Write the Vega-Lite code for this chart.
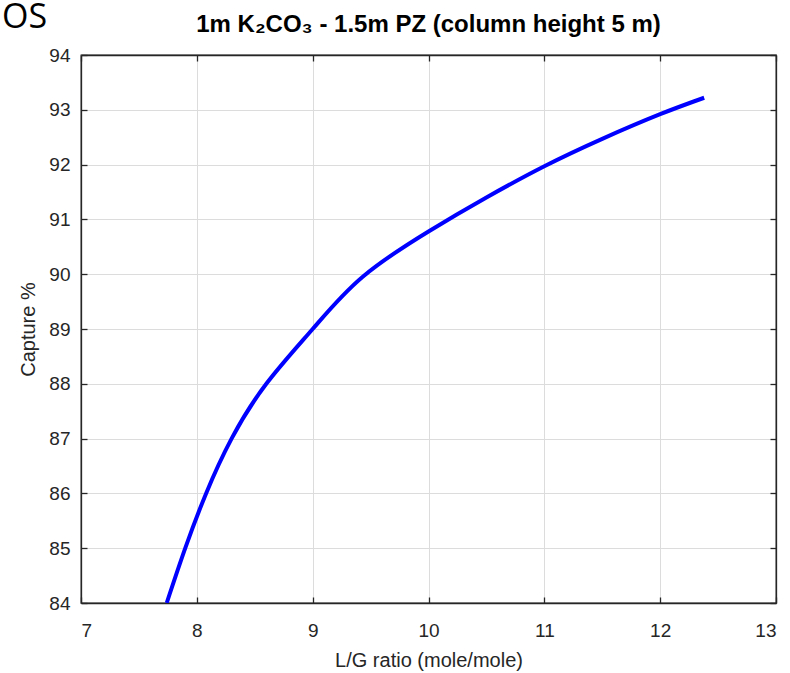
{
  "$schema": "https://vega.github.io/schema/vega-lite/v6.json",
  "autosize": {"type": "none"},
  "padding": {"left": 81, "top": 55, "right": 14, "bottom": 70},
  "width": 695,
  "height": 548,
  "background": "white",
  "config": {
    "view": {"stroke": "#262626", "strokeWidth": 1.3},
    "font": "Liberation Sans",
    "axis": {
      "labelFont": "Liberation Sans",
      "titleFont": "Liberation Sans",
      "labelFontSize": 19,
      "titleFontSize": 20,
      "titleFontWeight": "normal",
      "labelColor": "#262626",
      "titleColor": "#262626",
      "domainColor": "#262626",
      "domainWidth": 1.3,
      "tickColor": "#262626",
      "tickWidth": 1.3,
      "gridColor": "#dcdcdc",
      "gridWidth": 1,
      "gridOpacity": 1
    }
  },
  "title": {
    "text": "1m K₂CO₃ - 1.5m PZ (column height 5 m)",
    "font": "Liberation Sans",
    "fontSize": 24,
    "fontWeight": "bold",
    "color": "#000000",
    "anchor": "middle",
    "offset": -31,
    "dy": 5
  },
  "data": {
    "values": [
      {"lg": 7.74, "capture": 84.0},
      {"lg": 7.90, "capture": 85.0},
      {"lg": 8.08, "capture": 86.0},
      {"lg": 8.30, "capture": 87.0},
      {"lg": 8.60, "capture": 88.0},
      {"lg": 9.00, "capture": 89.0},
      {"lg": 9.43, "capture": 89.95},
      {"lg": 10.00, "capture": 90.78},
      {"lg": 10.50, "capture": 91.4},
      {"lg": 11.00, "capture": 91.97},
      {"lg": 11.50, "capture": 92.47},
      {"lg": 12.00, "capture": 92.92},
      {"lg": 12.38, "capture": 93.22}
    ]
  },
  "layer": [
    {
      "mark": {"type": "line", "color": "#0000ff", "strokeWidth": 4, "interpolate": "natural", "clip": true},
      "encoding": {
        "x": {
          "field": "lg", "type": "quantitative",
          "scale": {"domain": [7, 13], "nice": false, "zero": false},
          "axis": {
            "title": "L/G ratio (mole/mole)",
            "values": [7, 8, 9, 10, 11, 12, 13],
            "tickSize": -6,
            "labelPadding": 24,
            "titlePadding": 10,
            "grid": true,
            "orient": "bottom"
          }
        },
        "y": {
          "field": "capture", "type": "quantitative",
          "scale": {"domain": [84, 94], "nice": false, "zero": false},
          "axis": {
            "title": "Capture %",
            "values": [84, 85, 86, 87, 88, 89, 90, 91, 92, 93, 94],
            "tickSize": -6,
            "labelPadding": 17,
            "titlePadding": 10,
            "grid": true,
            "orient": "left"
          }
        }
      }
    },
    {
      "data": {"values": [{"label": "OS"}]},
      "mark": {"type": "text", "fontSize": 34, "font": "Open Sans", "color": "#000000", "align": "left", "baseline": "middle", "clip": false, "dx": -79, "dy": -37},
      "encoding": {
        "text": {"field": "label"},
        "x": {"datum": 7, "type": "quantitative", "axis": {"orient": "top", "labels": false, "title": null, "grid": false, "tickSize": -6, "values": [7, 8, 9, 10, 11, 12, 13]}},
        "y": {"datum": 94, "type": "quantitative", "axis": {"orient": "right", "labels": false, "title": null, "grid": false, "tickSize": -6, "values": [84, 85, 86, 87, 88, 89, 90, 91, 92, 93, 94]}}
      }
    }
  ],
  "resolve": {"axis": {"x": "independent", "y": "independent"}}
}
